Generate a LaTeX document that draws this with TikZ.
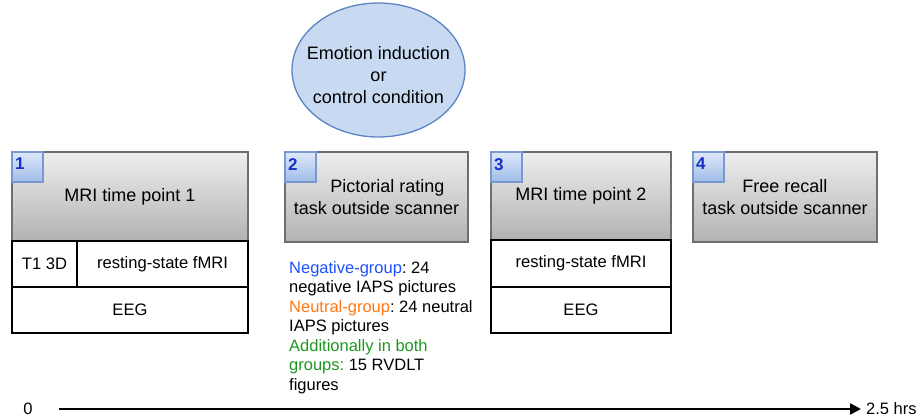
\documentclass[tikz,border=0pt]{standalone}
\usepackage{fontspec}
\setmainfont{Liberation Sans}
\usetikzlibrary{shapes.geometric,arrows.meta,positioning}
\frenchspacing

\definecolor{boxedge}{RGB}{110,110,110}
\definecolor{graytop}{RGB}{238,238,238}
\definecolor{graybot}{RGB}{178,178,178}
\definecolor{numtop}{RGB}{222,233,250}
\definecolor{numbot}{RGB}{160,188,232}
\definecolor{numedge}{RGB}{120,152,208}
\definecolor{numink}{RGB}{22,48,200}
\definecolor{ellfill}{RGB}{200,218,242}
\definecolor{elledge}{RGB}{92,132,196}
\definecolor{neggrp}{RGB}{30,80,255}
\definecolor{neugrp}{RGB}{255,120,20}
\definecolor{bothgrp}{RGB}{30,150,30}

\tikzset{
  graybox/.style={rectangle, draw=boxedge, line width=1.5pt, top color=graytop,
    bottom color=graybot, inner sep=0pt, outer sep=0pt, align=center,
    font=\fontsize{18}{22}\selectfont},
  rowbox/.style={rectangle, draw=black, line width=1.5pt, fill=white,
    inner sep=0pt, outer sep=0pt, font=\fontsize{16.6}{19}\selectfont},
  numbox/.style={rectangle, draw=numedge, line width=1.2pt, top color=numtop,
    bottom color=numbot, minimum width=31pt, minimum height=30pt,
    inner sep=0pt, outer sep=0pt, anchor=north west},
  numtext/.style={anchor=north west, inner sep=0pt, text=numink,
    font=\bfseries\fontsize{17}{18}\selectfont},
  plain/.style={inner sep=0pt, font=\fontsize{16.5}{19.5}\selectfont}
}

\begin{document}
\begin{tikzpicture}[x=1pt,y=-1pt]
\useasboundingbox (0,0) rectangle (922,419);

% condition ellipse
\node[ellipse, draw=elledge, line width=1.3pt, fill=ellfill,
  minimum width=173pt, minimum height=134pt, inner sep=0pt] (emo) at (378.5,70) {};
\node[align=center, inner sep=0pt, font=\fontsize{18}{22}\selectfont]
  (emotxt) at ([yshift=-5pt]emo.center) {Emotion induction\\or\\control condition};

% session 1: MRI time point 1
\node[graybox, minimum width=236pt, minimum height=89pt] (b1) at (130,196.5) {MRI time point 1};
\node[rowbox, minimum width=65pt, minimum height=46pt] (t1) at (44.5,264) {T1 3D};
\node[rowbox, minimum width=171pt, minimum height=46pt] (rs1) at (162.5,264) {resting-state fMRI};
\node[rowbox, minimum width=236pt, minimum height=46pt] (eeg1) at (130,310) {EEG};
\node[numbox] (n1) at (b1.north west) {};
\node[numtext] at ([xshift=3pt,yshift=-6pt]n1.north west) {1};

% session 2: rating task
\node[graybox, minimum width=183pt, minimum height=90pt] (b2) at (376.5,197)
  {\hspace*{22pt}Pictorial rating\\task outside scanner};
\node[numbox] (n2) at (b2.north west) {};
\node[numtext] at ([xshift=3pt,yshift=-6pt]n2.north west) {2};

\node[plain, anchor=north west, align=left] (list) at (289,261) {%
  \textcolor{neggrp}{Negative-group}: 24\\
  negative IAPS pictures\\
  \textcolor{neugrp}{Neutral-group}: 24 neutral\\
  IAPS pictures\\
  \textcolor{bothgrp}{Additionally in both}\\
  \textcolor{bothgrp}{groups:} 15 RVDLT\\
  figures};

% session 3: MRI time point 2
\node[graybox, minimum width=180pt, minimum height=88pt] (b3) at (581,196) {MRI time point 2};
\node[rowbox, minimum width=180pt, minimum height=47pt] (rs3) at (581,263.5) {resting-state fMRI};
\node[rowbox, minimum width=180pt, minimum height=46pt] (eeg3) at (581,310) {EEG};
\node[numbox] (n3) at (b3.north west) {};
\node[numtext] at ([xshift=3pt,yshift=-6pt]n3.north west) {3};

% session 4: free recall
\node[graybox, minimum width=184pt, minimum height=90pt] (b4) at (785,197)
  {Free recall\\task outside scanner};
\node[numbox] (n4) at (b4.north west) {};
\node[numtext] at ([xshift=3pt,yshift=-6pt]n4.north west) {4};

% time axis
\node[plain, font=\fontsize{16.5}{18}\selectfont] (t0) at (28,409) {0};
\node[plain, font=\fontsize{16.5}{18}\selectfont, anchor=west] (tend) at (866,409) {2.5 hrs};
\coordinate (tstart) at (59,409);
\draw[line width=2.3pt, -{Triangle[length=11pt,width=11pt]}] (tstart) -- ([xshift=-5pt]tend.west);
\end{tikzpicture}
\end{document}
